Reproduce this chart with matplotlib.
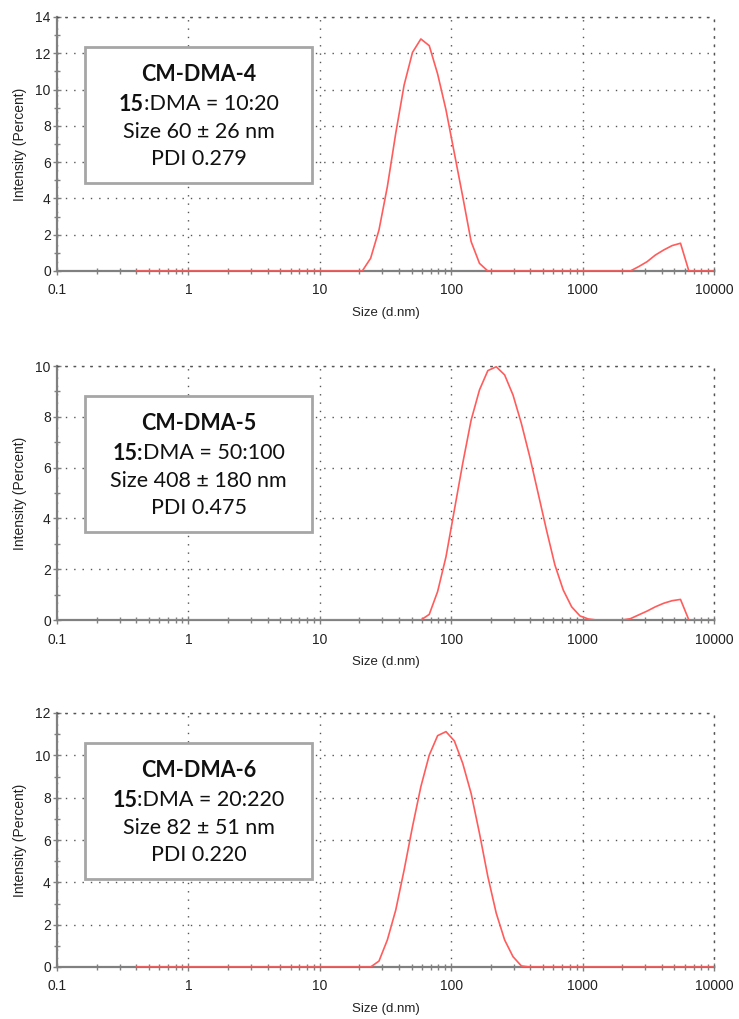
import matplotlib
matplotlib.use('Agg')
import matplotlib.pyplot as plt
from matplotlib.patches import Rectangle
from matplotlib.ticker import MultipleLocator, LogLocator, FuncFormatter, NullFormatter

# Malvern size classes (d.nm)
size_bins = [0.4, 0.4632, 0.5365, 0.6213, 0.7195, 0.8332, 0.9649, 1.117, 1.294, 1.499,
             1.736, 2.010, 2.328, 2.696, 3.122, 3.615, 4.187, 4.849, 5.615, 6.503,
             7.531, 8.721, 10.10, 11.70, 13.54, 15.69, 18.17, 21.04, 24.36, 28.21,
             32.67, 37.84, 43.82, 50.75, 58.77, 68.06, 78.82, 91.28, 105.7, 122.4,
             141.8, 164.2, 190.1, 220.2, 255.0, 295.3, 342.0, 396.1, 458.7, 531.2,
             615.1, 712.4, 825.0, 955.4, 1106, 1281, 1484, 1718, 1990, 2305,
             2669, 3091, 3580, 4145, 4801, 5560, 6439, 7456, 8635, 10000]

int_dma4 = [0, 0, 0, 0, 0, 0, 0, 0, 0, 0,
            0, 0, 0, 0, 0, 0, 0, 0, 0, 0,
            0, 0, 0, 0, 0, 0, 0, 0, 0.7, 2.26,
            4.65, 7.59, 10.25, 12.05, 12.79, 12.42, 10.86, 8.88, 6.49, 4.1,
            1.62, 0.42, 0, 0, 0, 0, 0, 0, 0, 0,
            0, 0, 0, 0, 0, 0, 0, 0, 0, 0,
            0.24, 0.51, 0.88, 1.16, 1.40, 1.53, 0, 0, 0, 0]

int_dma5 = [0, 0, 0, 0, 0, 0, 0, 0, 0, 0,
            0, 0, 0, 0, 0, 0, 0, 0, 0, 0,
            0, 0, 0, 0, 0, 0, 0, 0, 0, 0,
            0, 0, 0, 0, 0, 0.22, 1.12, 2.49, 4.33, 6.17,
            7.87, 9.06, 9.82, 9.97, 9.65, 8.86, 7.74, 6.43, 4.99, 3.54,
            2.17, 1.18, 0.52, 0.16, 0.04, 0, 0, 0, 0, 0.05,
            0.2, 0.35, 0.52, 0.66, 0.76, 0.81, 0, 0, 0, 0]

int_dma6 = [0, 0, 0, 0, 0, 0, 0, 0, 0, 0,
            0, 0, 0, 0, 0, 0, 0, 0, 0, 0,
            0, 0, 0, 0, 0, 0, 0, 0, 0, 0.28,
            1.28, 2.69, 4.58, 6.63, 8.52, 10.01, 10.93, 11.12, 10.68, 9.62,
            8.2, 6.31, 4.27, 2.54, 1.28, 0.49, 0.05, 0, 0, 0,
            0, 0, 0, 0, 0, 0, 0, 0, 0, 0,
            0, 0, 0, 0, 0, 0, 0, 0, 0, 0]

samples = ['CM-DMA-4', 'CM-DMA-5', 'CM-DMA-6']
ratio_bold = ['15', '15:', '15']
ratio_rest = [':DMA = 10:20', 'DMA = 50:100', ':DMA = 20:220']
size_txt = ['Size 60 ± 26 nm', 'Size 408 ± 180 nm', 'Size 82 ± 51 nm']
pdi_txt = ['PDI 0.279', 'PDI 0.475', 'PDI 0.220']
y_max = [14, 10, 12]
x_ticks = [0.1, 1, 10, 100, 1000, 10000]

plt.rcParams['font.family'] = ['Liberation Sans', 'DejaVu Sans']

fig = plt.figure(figsize=(7.39, 10.19), dpi=100)
renderer = fig.canvas.get_renderer()

W, H = 739, 1019
left, right = 57, 714
bottoms = [271, 620, 967]
ax_h = 254

spine_col = '#808080'
grid_col = '#555555'
dots = (0, (1, 5))

for i, ints in enumerate([int_dma4, int_dma5, int_dma6]):
    ax = fig.add_axes([left / W, 1 - bottoms[i] / H, (right - left) / W, ax_h / H])
    ax.plot(size_bins, ints, color='#ff5c5c', lw=1.2, zorder=4)
    ax.set_xscale('log')
    ax.set_xlim(0.1, 10000)
    ax.set_ylim(0, y_max[i])

    ax.xaxis.set_major_locator(LogLocator(base=10))
    ax.xaxis.set_minor_locator(LogLocator(base=10, subs=range(2, 10)))
    ax.xaxis.set_minor_formatter(NullFormatter())
    ax.set_xticks(x_ticks)
    ax.xaxis.set_major_formatter(FuncFormatter(lambda v, p: '%g' % v))
    ax.yaxis.set_major_locator(MultipleLocator(2))
    ax.yaxis.set_minor_locator(MultipleLocator(1))

    ax.grid(which='major', color=grid_col, linestyle=dots, lw=1.0)
    for s in ['left', 'bottom']:
        ax.spines[s].set_color(spine_col)
        ax.spines[s].set_linewidth(1.6)
    for s in ['top', 'right']:
        ax.spines[s].set_color(grid_col)
        ax.spines[s].set_linestyle(dots)
        ax.spines[s].set_linewidth(1.0)

    ax.tick_params(which='both', direction='inout', color=spine_col, width=1.0,
                   top=False, right=False)
    ax.tick_params(which='major', length=6)
    ax.tick_params(which='minor', length=5)
    ax.tick_params(axis='x', which='major', pad=6, labelsize=10, labelcolor='#222222')
    ax.tick_params(axis='y', which='major', pad=1.5, labelsize=10, labelcolor='#222222')

    ax.set_xlabel('Size (d.nm)', fontsize=9.5, color='#222222', labelpad=7)
    ax.set_ylabel('Intensity (Percent)', fontsize=10, color='#222222', labelpad=6)

    ax.add_patch(Rectangle((0.043, 0.345), 0.345, 0.537, transform=ax.transAxes,
                           facecolor='white', edgecolor='#a6a6a6', lw=2, zorder=5))
    cx = 0.2155
    kw = dict(transform=ax.transAxes, va='center', family='Lato',
              fontsize=15.5, color='#111111', zorder=6)
    ax.text(cx, 0.772, samples[i], ha='center', fontweight='bold', **kw)
    # mixed bold / regular line, centred by measuring both parts
    tb = ax.text(0, 0.657, ratio_bold[i], ha='left', fontweight='bold', **kw)
    tr = ax.text(0, 0.657, ratio_rest[i], ha='left', **kw)
    wb = tb.get_window_extent(renderer).width / (right - left)
    wr = tr.get_window_extent(renderer).width / (right - left)
    x0 = cx - (wb + wr) / 2
    tb.set_x(x0)
    tr.set_x(x0 + wb)
    ax.text(cx, 0.548, size_txt[i], ha='center', **kw)
    ax.text(cx, 0.44, pdi_txt[i], ha='center', **kw)

fig.savefig('out.png', dpi=100)
